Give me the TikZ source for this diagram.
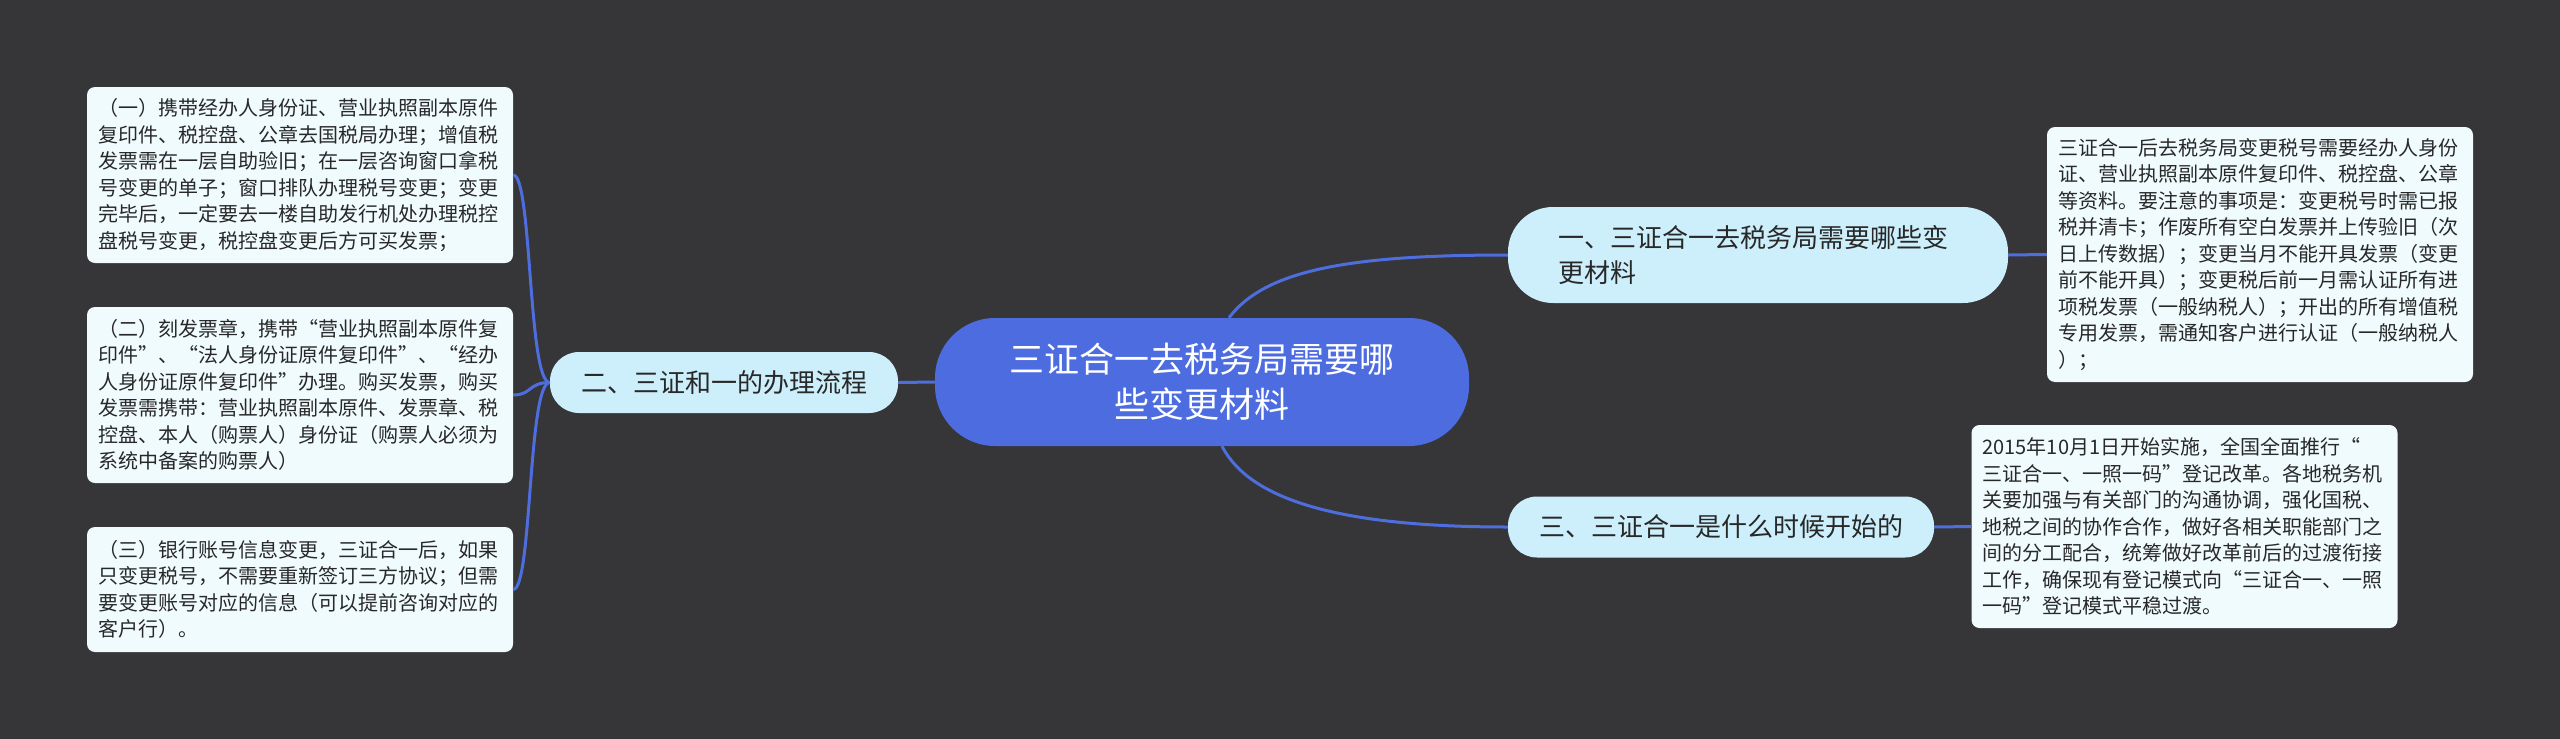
\documentclass[tikz,border=0pt]{standalone}
\usepackage{fontspec}
\setmainfont{Noto Sans CJK SC}
\usetikzlibrary{calc}
\definecolor{bg}{RGB}{54,53,56}
\definecolor{ln}{RGB}{78,110,222}
\definecolor{cfill}{RGB}{76,108,224}
\definecolor{bfill}{RGB}{205,239,252}
\definecolor{lfill}{RGB}{240,251,254}
\definecolor{tx}{RGB}{40,40,40}
\tikzset{
  leafbox/.style={fill=lfill, rounded corners=8pt, minimum width=426pt, text width=404pt,
    inner sep=0pt, align=left, font=\fontsize{20}{26.5}\selectfont, text=tx},
  branchbox/.style={fill=bfill, text=tx, font=\fontsize{26}{35}\selectfont, inner sep=0pt},
  rootbox/.style={fill=cfill, text=white, font=\fontsize{35}{45}\selectfont, inner sep=0pt,
    minimum width=534pt, minimum height=128pt, rounded corners=60pt, align=center},
  conn/.style={draw=ln, line width=3pt}
}
\begin{document}
\begin{tikzpicture}[x=1pt,y=-1pt]
\fill[bg] (0,0) rectangle (2560,739);
\useasboundingbox (0,0) rectangle (2560,739);

% root
\node[rootbox] (c) at (1202,382) {三证合一去税务局需要哪\\些变更材料};

% branches
\node[branchbox, minimum width=500pt, minimum height=96pt, rounded corners=45pt,
  text width=400pt, align=left] (b1) at (1758,255) {一、三证合一去税务局需要哪些变\\更材料};
\node[branchbox, minimum width=348pt, minimum height=61pt, rounded corners=29pt] (b2) at (724,382.5) {二、三证和一的办理流程};
\node[branchbox, minimum width=426pt, minimum height=61pt, rounded corners=29pt] (b3) at (1721,527) {三、三证合一是什么时候开始的};

% left leaves
\node[leafbox, minimum height=176pt] (l1) at (300,175) {（一）携带经办人身份证、营业执照副本原件\\复印件、税控盘、公章去国税局办理；增值税\\发票需在一层自助验旧；在一层咨询窗口拿税\\号变更的单子；窗口排队办理税号变更；变更\\完毕后，一定要去一楼自助发行机处办理税控\\盘税号变更，税控盘变更后方可买发票；};
\node[leafbox, minimum height=176pt] (l2) at (300,395) {（二）刻发票章，携带“营业执照副本原件复\\印件”、“法人身份证原件复印件”、“经办\\人身份证原件复印件”办理。购买发票，购买\\发票需携带：营业执照副本原件、发票章、税\\控盘、本人（购票人）身份证（购票人必须为\\系统中备案的购票人）};
\node[leafbox, minimum height=125pt] (l3) at (300,589.5) {（三）银行账号信息变更，三证合一后，如果\\只变更税号，不需要重新签订三方协议；但需\\要变更账号对应的信息（可以提前咨询对应的\\客户行）。};

% right leaves
\node[leafbox, minimum height=255pt] (r1) at (2260,254.5) {三证合一后去税务局变更税号需要经办人身份\\证、营业执照副本原件复印件、税控盘、公章\\等资料。要注意的事项是：变更税号时需已报\\税并清卡；作废所有空白发票并上传验旧（次\\日上传数据）；变更当月不能开具发票（变更\\前不能开具）；变更税后前一月需认证所有进\\项税发票（一般纳税人）；开出的所有增值税\\专用发票，需通知客户进行认证（一般纳税人\\）；};
\node[leafbox, minimum height=203pt] (r2) at (2184.5,526.5) {2015年10月1日开始实施，全国全面推行“\\三证合一、一照一码”登记改革。各地税务机\\关要加强与有关部门的沟通协调，强化国税、\\地税之间的协作合作，做好各相关职能部门之\\间的分工配合，统筹做好改革前后的过渡衔接\\工作，确保现有登记模式向“三证合一、一照\\一码”登记模式平稳过渡。};

% connectors
\draw[conn] ($(c.north)+(27,0)$) .. controls ($(c.north)+(63,-48)$) and ($(b1.west)+(-158,0)$) .. (b1.west);
\draw[conn] ($(c.south)+(20,0)$) .. controls ($(c.south)+(48,54)$) and ($(b3.west)+(-168,0)$) .. (b3.west);
\draw[conn] (c.west) -- (b2.east);
\draw[conn] (b1.east) -- (r1.west);
\draw[conn] (b3.east) -- (r2.west);
\draw[conn] (b2.west) .. controls ($(b2.west)+(-22,0)$) and ($(l1.east)+(19,0)$) .. (l1.east);
\draw[conn] (b2.west) .. controls ($(b2.west)+(-22,0)$) and ($(l2.east)+(19,0)$) .. (l2.east);
\draw[conn] (b2.west) .. controls ($(b2.west)+(-22,0)$) and ($(l3.east)+(19,0)$) .. (l3.east);
\end{tikzpicture}
\end{document}
